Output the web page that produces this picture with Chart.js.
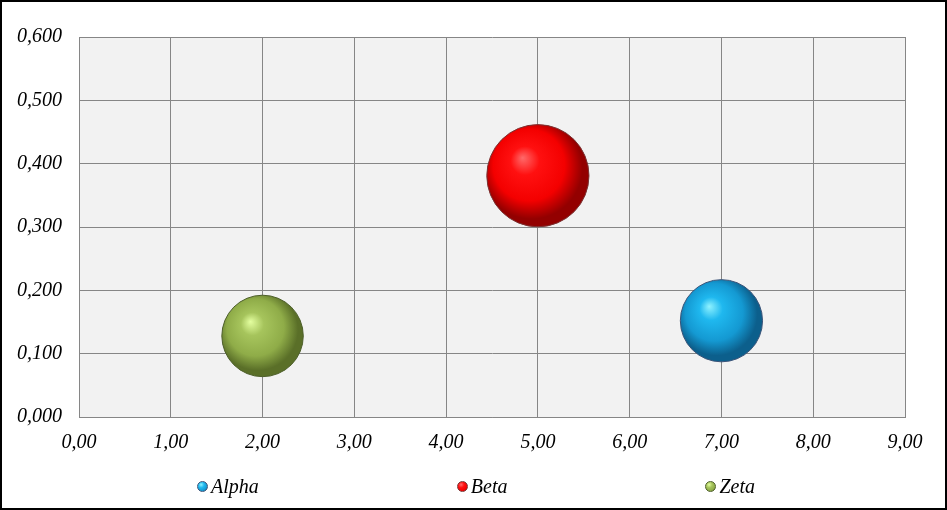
<!DOCTYPE html>
<html>

<head>
    <title>Bubble Chart</title>
    <script src="https://cdn.jsdelivr.net/npm/chart.js"></script>
    <style>
        body { margin: 0; background: #fff; }
        #frame {
            position: relative;
            width: 947px;
            height: 510px;
            box-sizing: border-box;
            border: 2px solid #000;
            background: #fff;
        }
        #myChart { display: block; }
        #legend {
            position: absolute;
            left: 195px;
            top: 472px;
            display: flex;
            gap: 198px;
            font: italic 20px "Liberation Serif", "Times New Roman", serif;
            color: #000;
            line-height: 24px;
        }
        .item { display: flex; align-items: center; gap: 3px; }
        .dot { width: 11px; height: 11px; border-radius: 50%; box-sizing: border-box; }
    </style>
</head>

<body>
    <div id="frame">
        <canvas id="myChart" width="943" height="506"></canvas>
        <div id="legend"></div>
    </div>

    <script>
        const seriesNames = ['Alpha', 'Beta', 'Zeta'];
        const xValues = [7, 5, 2];
        const yValues = [0.152, 0.381, 0.128];
        const bubbleSizes = [1.65, 2.55, 1.62];

        // highlight, body, shade, edge, border
        const palettes = {
            Alpha: ['#8ff2ff', '#1fb8ef', '#1499d2', '#0c5f8c', '#3b5479'],
            Beta: ['#ff6a6a', '#ff1010', '#f40000', '#930000', '#7a3434'],
            Zeta: ['#e4ffa0', '#a6c45c', '#8fac48', '#5a6f28', '#4d5f2a']
        };

        function sphere(ctx, name) {
            const p = palettes[name];
            const chart = ctx.chart;
            if (ctx.type !== 'data' || !chart.chartArea || !chart.scales.x) return p[1];
            const raw = ctx.raw;
            const cx = chart.scales.x.getPixelForValue(raw.x);
            const cy = chart.scales.y.getPixelForValue(raw.y);
            const r = raw.r;
            if (!isFinite(cx) || !isFinite(cy)) return p[1];
            // light from upper left, shade toward lower right
            const g = chart.ctx.createRadialGradient(cx - r * 0.3, cy - r * 0.35, 0, cx - r * 0.1, cy - r * 0.12, r * 1.13);
            g.addColorStop(0, p[0]);
            g.addColorStop(0.25, p[1]);
            g.addColorStop(0.62, p[2]);
            g.addColorStop(0.88, p[3]);
            g.addColorStop(1, p[3]);
            return g;
        }

        const plotBg = {
            id: 'plotBg',
            beforeDraw(chart) {
                const { ctx, chartArea } = chart;
                ctx.save();
                ctx.fillStyle = '#f2f2f2';
                ctx.fillRect(chartArea.left, chartArea.top, chartArea.right - chartArea.left, chartArea.bottom - chartArea.top);
                ctx.restore();
            }
        };

        const font = { family: '"Liberation Serif", "Times New Roman", serif', size: 20, style: 'italic' };

        const chart = new Chart('myChart', {
            type: 'bubble',
            data: {
                datasets: seriesNames.map((name, i) => ({
                    label: name,
                    data: [{ x: xValues[i], y: yValues[i], r: 32 * Math.sqrt(bubbleSizes[i]) }],
                    backgroundColor: (ctx) => sphere(ctx, name),
                    borderColor: palettes[name][4],
                    borderWidth: 1
                }))
            },
            options: {
                responsive: false,
                animation: false,
                layout: {
                    autoPadding: false,
                    padding: { left: -2, right: 40, top: 35, bottom: 39 }
                },
                plugins: {
                    legend: { display: false },
                    tooltip: { enabled: false }
                },
                scales: {
                    x: {
                        min: 0,
                        max: 9,
                        ticks: {
                            stepSize: 1,
                            padding: 14,
                            color: '#000',
                            font: font,
                            callback: (v) => v.toFixed(2).replace('.', ',')
                        },
                        grid: { color: '#868686', drawTicks: false },
                        border: { color: '#868686' }
                    },
                    y: {
                        min: 0,
                        max: 0.6,
                        ticks: {
                            stepSize: 0.1,
                            padding: 17,
                            color: '#000',
                            font: font,
                            callback: (v) => v.toFixed(3).replace('.', ',')
                        },
                        grid: { color: '#868686', drawTicks: false },
                        border: { color: '#868686' }
                    }
                }
            },
            plugins: [plotBg]
        });

        const legend = document.getElementById('legend');
        seriesNames.forEach(name => {
            const p = palettes[name];
            const item = document.createElement('div');
            item.className = 'item';
            const dot = document.createElement('span');
            dot.className = 'dot';
            dot.style.background = `radial-gradient(circle at 35% 30%, ${p[0]} 0%, ${p[1]} 35%, ${p[2]} 70%, ${p[3]} 100%)`;
            dot.style.border = `1px solid ${p[4]}`;
            const label = document.createElement('span');
            label.textContent = name;
            item.appendChild(dot);
            item.appendChild(label);
            legend.appendChild(item);
        });
    </script>
</body>

</html>
